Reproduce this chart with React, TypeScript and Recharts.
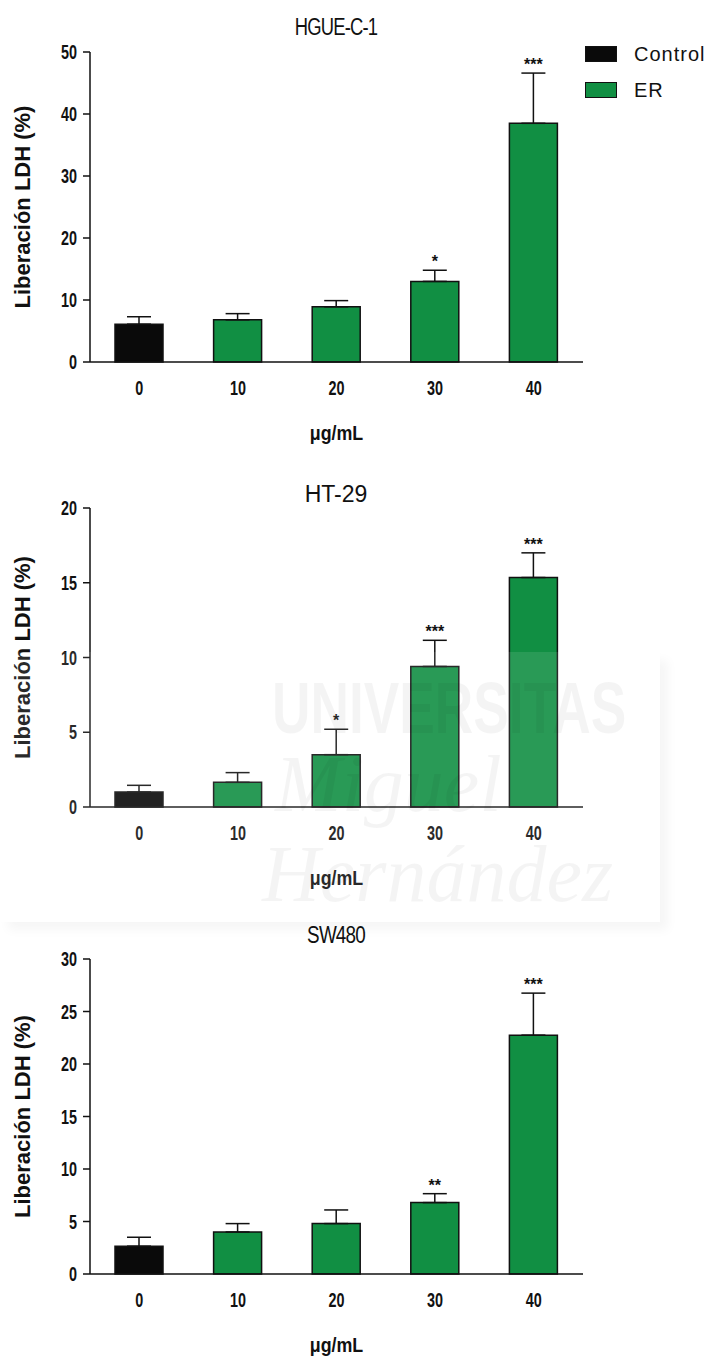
import { Bar, BarChart, Cell, ErrorBar, LabelList, XAxis, YAxis } from "recharts";

const doses = ["0", "10", "20", "30", "40"];

const hgueMeans = [6.1, 6.8, 8.9, 13.0, 38.5];
const hgueErrors = [1.2, 1.0, 1.0, 1.8, 8.1];
const hgueStars = ["", "", "", "*", "***"];
const hgueTicks = [0, 10, 20, 30, 40, 50];

const ht29Means = [1.0, 1.65, 3.5, 9.4, 15.35];
const ht29Errors = [0.45, 0.65, 1.7, 1.75, 1.65];
const ht29Stars = ["", "", "*", "***", "***"];
const ht29Ticks = [0, 5, 10, 15, 20];

const swMeans = [2.65, 4.0, 4.8, 6.8, 22.75];
const swErrors = [0.85, 0.8, 1.3, 0.85, 4.0];
const swStars = ["", "", "", "**", "***"];
const swTicks = [0, 5, 10, 15, 20, 25, 30];

const legendItems = [
  { name: "Control", color: "#0a0a0a" },
  { name: "ER", color: "#118f43" },
];

const SANS = "'Liberation Sans', Arial, sans-serif";
const SQUEEZE = 0.72;

type PanelProps = {
  title: string;
  titleScale: number;
  titleSpacing: number;
  means: number[];
  errors: number[];
  stars: string[];
  ticks: number[];
  top: number;
  height: number;
  marginTop: number;
  marginBottom: number;
  titleY: number;
};

// bold, horizontally squeezed tick text (no narrow font installed)
const YTick = (props: any) => {
  const { x, y, payload } = props;
  return (
    <g transform={`translate(${x},${y}) scale(${SQUEEZE},1)`}>
      <text x={0} y={0} dy="0.36em" textAnchor="end" fontFamily={SANS} fontWeight={700} fontSize={20} fill="#111">
        {payload.value}
      </text>
    </g>
  );
};

const XTick = (props: any) => {
  const { x, y, payload } = props;
  return (
    <g transform={`translate(${x},${y}) scale(${SQUEEZE},1)`}>
      <text x={0} y={0} dy="0.71em" textAnchor="middle" fontFamily={SANS} fontWeight={700} fontSize={20} fill="#111">
        {payload.value}
      </text>
    </g>
  );
};

const starLabel = (means: number[], errors: number[]) => (props: any) => {
  const { value, index } = props;
  if (!value) return null;
  const vb = props.viewBox ?? props;
  const x = Number(vb.x);
  const y = Number(vb.y);
  const w = Number(vb.width);
  const h = Number(vb.height);
  const base = y + h;
  const capY = base - (h * (means[index] + errors[index])) / means[index];
  return (
    <text
      x={x + w / 2}
      y={capY - 3}
      textAnchor="middle"
      fontSize={16}
      fontWeight={700}
      fontFamily={SANS}
      fill="#111"
    >
      {value}
    </text>
  );
};

function Panel(p: PanelProps) {
  const data = doses.map((dose, i) => ({
    dose,
    value: p.means[i],
    err: [0, p.errors[i]],
    sig: p.stars[i],
  }));
  const max = p.ticks[p.ticks.length - 1];

  return (
    <div style={{ position: "absolute", left: 0, top: p.top, width: 710, height: p.height }}>
      <div
        style={{
          position: "absolute",
          left: 236,
          width: 200,
          top: p.titleY - 14,
          height: 28,
          lineHeight: "28px",
          textAlign: "center",
          fontFamily: SANS,
          fontSize: 23,
          letterSpacing: p.titleSpacing,
          transform: `scaleX(${p.titleScale})`,
          color: "#111",
        }}
      >
        {p.title}
      </div>
      <BarChart
        width={710}
        height={p.height}
        data={data}
        margin={{ top: p.marginTop, right: 127, bottom: p.marginBottom, left: 0 }}
        barSize={48}
      >
        <XAxis
          dataKey="dose"
          height={85}
          tickLine={false}
          tickSize={0}
          tickMargin={19}
          axisLine={{ stroke: "#111", strokeWidth: 1.5 }}
          tick={<XTick />}
          label={{
            content: ({ viewBox }: any) => {
              const cx = viewBox.x + viewBox.width / 2;
              const cy = viewBox.y + 70;
              return (
                <g transform={`translate(${cx},${cy}) scale(0.85,1)`}>
                  <text
                    x={0}
                    y={0}
                    textAnchor="middle"
                    dominantBaseline="central"
                    fontFamily={SANS}
                    fontWeight={700}
                    fontSize={21}
                    fill="#111"
                  >
                    μg/mL
                  </text>
                </g>
              );
            },
          }}
        />
        <YAxis
          width={90}
          domain={[0, max]}
          ticks={p.ticks}
          interval={0}
          tickSize={7}
          tickMargin={6}
          tickLine={{ stroke: "#111", strokeWidth: 1.5 }}
          axisLine={{ stroke: "#111", strokeWidth: 1.5 }}
          tick={<YTick />}
          label={{
            content: ({ viewBox }: any) => {
              const cy = viewBox.y + viewBox.height / 2;
              return (
                <text
                  x={22}
                  y={cy}
                  transform={`rotate(-90, 22, ${cy})`}
                  textAnchor="middle"
                  dominantBaseline="central"
                  fontFamily={SANS}
                  fontWeight={700}
                  fontSize={22}
                  fill="#111"
                >
                  Liberación LDH (%)
                </text>
              );
            },
          }}
        />
        <Bar dataKey="value" stroke="#111" strokeWidth={1.5} isAnimationActive={false}>
          {data.map((d, i) => (
            <Cell key={d.dose} fill={i === 0 ? legendItems[0].color : legendItems[1].color} />
          ))}
          <ErrorBar dataKey="err" direction="y" width={12} stroke="#111" strokeWidth={1.5} isAnimationActive={false} />
          <LabelList dataKey="sig" content={starLabel(p.means, p.errors)} />
        </Bar>
      </BarChart>
    </div>
  );
}

function Watermark() {
  const ink = "rgba(0,0,0,0.045)";
  return (
    <div
      style={{
        position: "absolute",
        left: 0,
        top: 652,
        width: 660,
        height: 270,
        background: "rgba(255,255,255,0.1)",
        boxShadow: "8px 8px 10px rgba(0,0,0,0.04)",
        pointerEvents: "none",
        overflow: "hidden",
      }}
    >
      <div
        style={{
          position: "absolute",
          left: 272,
          top: 20,
          fontFamily: SANS,
          fontWeight: 700,
          fontSize: 72,
          lineHeight: "72px",
          transform: "scaleX(0.74)",
          transformOrigin: "0 0",
          color: ink,
        }}
      >
        UNIVERSITAS
      </div>
      <div
        style={{
          position: "absolute",
          left: 275,
          top: 92,
          fontFamily: "'Liberation Serif', serif",
          fontStyle: "italic",
          fontSize: 80,
          lineHeight: "80px",
          color: ink,
        }}
      >
        Miguel
      </div>
      <div
        style={{
          position: "absolute",
          left: 262,
          top: 182,
          fontFamily: "'Liberation Serif', serif",
          fontStyle: "italic",
          fontSize: 80,
          lineHeight: "80px",
          color: ink,
        }}
      >
        Hernández
      </div>
    </div>
  );
}

function ChartLegend() {
  return (
    <div style={{ position: "absolute", left: 585, top: 46 }}>
      {legendItems.map((item, i) => (
        <div key={item.name} style={{ position: "absolute", left: 0, top: i * 36, width: 125, height: 18 }}>
          <div
            style={{
              position: "absolute",
              left: 0,
              top: 0,
              width: 30,
              height: 14,
              background: item.color,
              border: "1.5px solid #111",
            }}
          />
          <div
            style={{
              position: "absolute",
              left: 49,
              top: -4,
              fontFamily: SANS,
              fontSize: 20,
              lineHeight: "24px",
              letterSpacing: 1,
              color: "#111",
            }}
          >
            {item.name}
          </div>
        </div>
      ))}
    </div>
  );
}

export default function App() {
  return (
    <div
      style={{
        position: "absolute",
        left: 0,
        top: 0,
        width: 710,
        height: 1359,
        background: "#fff",
        overflow: "hidden",
      }}
    >
      <Panel
        title="HGUE-C-1"
        titleScale={0.8}
        titleSpacing={-1}
        means={hgueMeans}
        errors={hgueErrors}
        stars={hgueStars}
        ticks={hgueTicks}
        top={0}
        height={450}
        marginTop={52}
        marginBottom={3}
        titleY={27}
      />
      <ChartLegend />
      <Panel
        title="HT-29"
        titleScale={1}
        titleSpacing={0}
        means={ht29Means}
        errors={ht29Errors}
        stars={ht29Stars}
        ticks={ht29Ticks}
        top={460}
        height={440}
        marginTop={48}
        marginBottom={8}
        titleY={34}
      />
      <Panel
        title="SW480"
        titleScale={0.82}
        titleSpacing={-1}
        means={swMeans}
        errors={swErrors}
        stars={swStars}
        ticks={swTicks}
        top={905}
        height={454}
        marginTop={54}
        marginBottom={0}
        titleY={30}
      />
      <Watermark />
    </div>
  );
}
